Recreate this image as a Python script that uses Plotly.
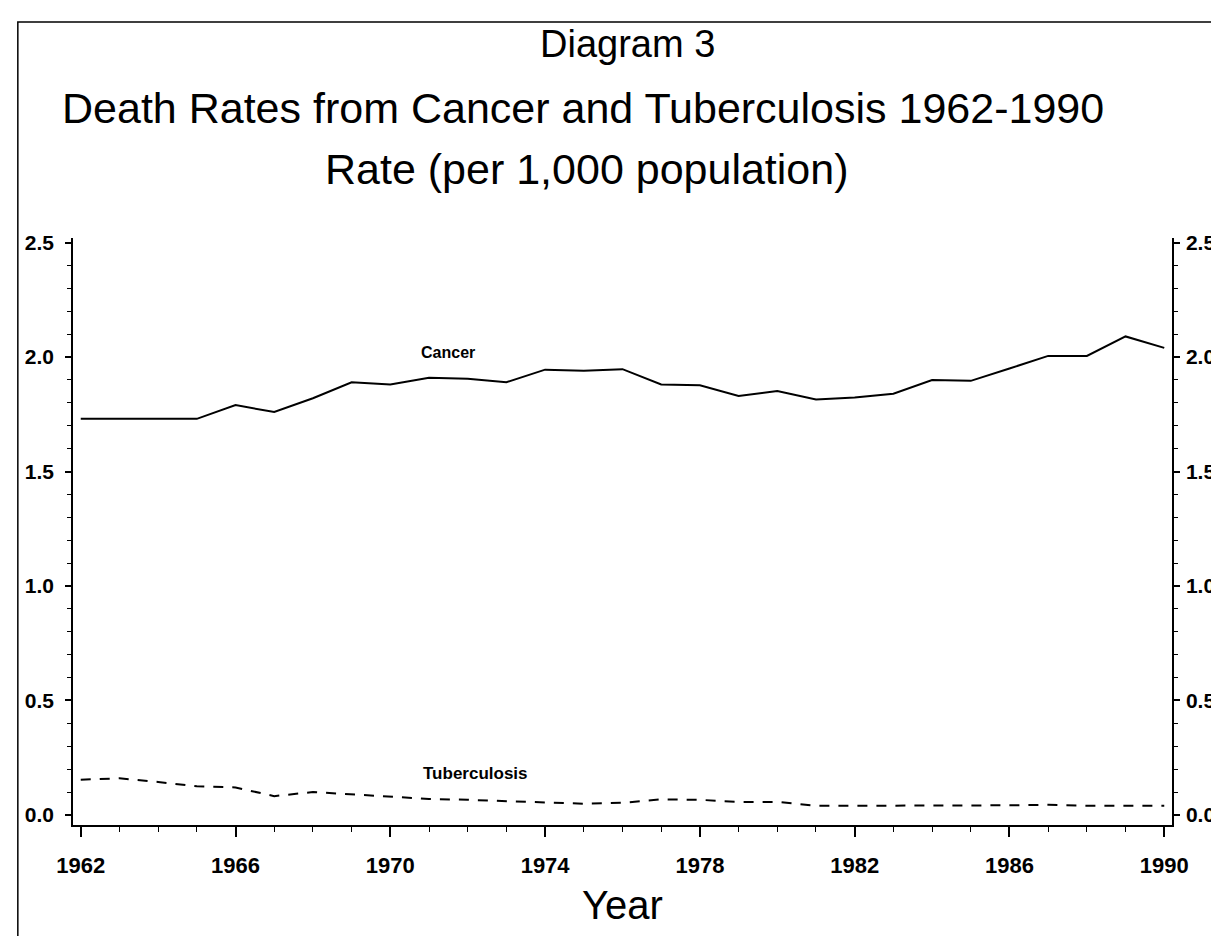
import plotly.graph_objects as go

years = list(range(1962, 1991))

cancer = [1.73, 1.73, 1.73, 1.73, 1.79, 1.76, 1.82, 1.89, 1.88, 1.91,
          1.905, 1.89, 1.945, 1.94, 1.947, 1.88, 1.877, 1.83, 1.852, 1.815,
          1.823, 1.84, 1.90, 1.896, 1.95, 2.005, 2.005, 2.09, 2.04]

tuberculosis = [0.154, 0.16, 0.144, 0.125, 0.12, 0.082, 0.10, 0.09, 0.078, 0.07,
                0.066, 0.06, 0.052, 0.049, 0.053, 0.068, 0.066, 0.057, 0.057, 0.04,
                0.04, 0.04, 0.042, 0.042, 0.042, 0.044, 0.04, 0.04, 0.04]

y_ticks = [0.0, 0.5, 1.0, 1.5, 2.0, 2.5]
x_ticks = [1962, 1966, 1970, 1974, 1978, 1982, 1986, 1990]

title_font = "Liberation Sans, Arial, sans-serif"
label_font = "Liberation Sans, Arial, sans-serif"

fig = go.Figure()

fig.add_trace(go.Scatter(
    x=years, y=cancer, mode="lines", name="Cancer",
    line=dict(color="black", width=2)
))
fig.add_trace(go.Scatter(
    x=years, y=tuberculosis, mode="lines", name="Tuberculosis",
    line=dict(color="black", width=2, dash="10px,9px")
))
# invisible trace so the right axis gets drawn
fig.add_trace(go.Scatter(
    x=[years[0]], y=[0], mode="markers", yaxis="y2",
    marker=dict(opacity=0), showlegend=False, hoverinfo="skip"
))

y_common = dict(
    range=[-0.044, 2.52],
    tickvals=y_ticks,
    ticktext=["<b>%.1f</b>" % v for v in y_ticks],
    ticks="outside", ticklen=6, tickwidth=1.5, tickcolor="black",
    minor=dict(dtick=0.1, ticks="outside", ticklen=4, tickcolor="black", tickwidth=1),
    showline=True, linecolor="black", linewidth=1.5,
    showgrid=False, zeroline=False,
    tickfont=dict(family=label_font, size=21, color="black"),
)

fig.update_layout(
    width=1219, height=936,
    margin=dict(l=65, r=39, t=230, b=119),
    paper_bgcolor="white", plot_bgcolor="white",
    showlegend=False,
    xaxis=dict(
        range=[1961.8, 1990.2],
        tickvals=x_ticks,
        ticktext=["<b>%d</b>" % v for v in x_ticks],
        ticks="outside", ticklen=10, tickwidth=1.5, tickcolor="black",
        minor=dict(dtick=1, tick0=1962, ticks="outside", ticklen=5, tickcolor="black", tickwidth=1),
        showline=True, linecolor="black", linewidth=1.5,
        showgrid=False, zeroline=False,
        ticklabelstandoff=10,
        tickfont=dict(family=label_font, size=22, color="black"),
        title=dict(text="Year", font=dict(family=title_font, size=40, color="black"), standoff=14),
    ),
    yaxis=dict(side="left", ticklabelstandoff=7, **y_common),
    yaxis2=dict(side="right", overlaying="y", ticklabelstandoff=2, **y_common),
)

# titles
titles = [
    ("Diagram 3", 0.505, 1.33, 38),
    ("Death Rates from Cancer and Tuberculosis 1962-1990", 0.464, 1.222, 43),
    ("Rate (per 1,000 population)", 0.468, 1.117, 43),
]
for text, xpos, ypos, size in titles:
    fig.add_annotation(
        text=text, xref="paper", yref="paper", x=xpos, y=ypos,
        showarrow=False, xanchor="center", yanchor="middle",
        font=dict(family=title_font, size=size, color="black")
    )

# line labels
fig.add_annotation(text="<b>Cancer</b>", x=1971.5, y=2.02, showarrow=False,
                   font=dict(family=label_font, size=16, color="black"))
fig.add_annotation(text="<b>Tuberculosis</b>", x=1972.2, y=0.18, showarrow=False,
                   font=dict(family=label_font, size=17, color="black"))

# page frame (top and left edges visible)
fig.add_shape(type="rect", xref="paper", yref="paper",
              x0=-0.0502, x1=1.2, y0=-0.3, y1=1.368,
              line=dict(color="black", width=1.5))

fig.write_html("out.html")
